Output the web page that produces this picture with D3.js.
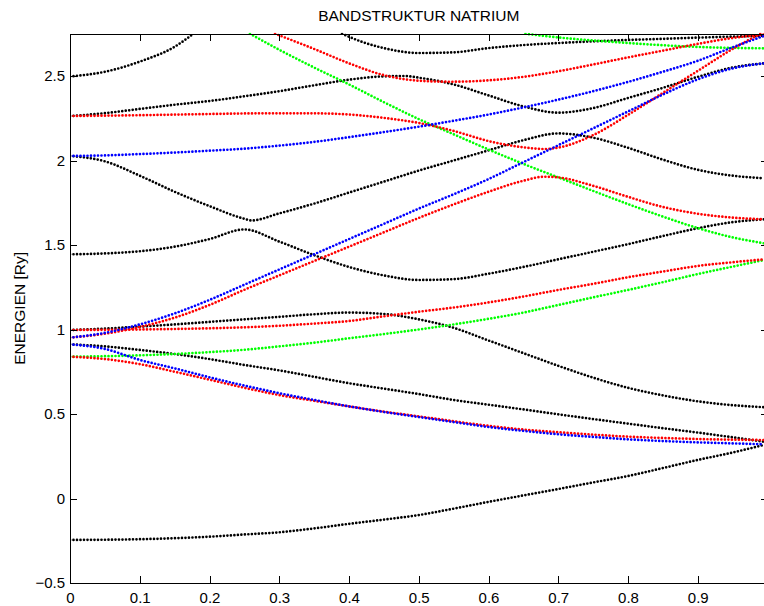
<!DOCTYPE html>
<html>
<head>
<meta charset="utf-8">
<script src="https://d3js.org/d3.v7.min.js"></script>
<style>
  body { margin: 0; background: #fff; }
  svg { display: block; font-family: "Liberation Sans", Arial, Helvetica, sans-serif; }
</style>
</head>
<body>
<svg id="bands" width="764" height="606"></svg>
<script>
const title = 'BANDSTRUKTUR NATRIUM'
const yLabel = 'ENERGIEN [Ry]'

const xTicks = [0, 0.1, 0.2, 0.3, 0.4, 0.5, 0.6, 0.7, 0.8, 0.9]
const xTickLabels = ['0', '0.1', '0.2', '0.3', '0.4', '0.5', '0.6', '0.7', '0.8', '0.9']
const yTicks = [-0.5, 0, 0.5, 1, 1.5, 2, 2.5]
const yTickLabels = ['\u22120.5', '0', '0.5', '1', '1.5', '2', '2.5']

// bands as [k, E] pairs
const blackLow = [[0,-0.245],[0.05,-0.244],[0.1,-0.241],[0.15,-0.235],[0.2,-0.226],[0.25,-0.213],[0.3,-0.2],[0.35,-0.177],[0.4,-0.15],[0.45,-0.125],[0.5,-0.098],[0.55,-0.06],[0.6,-0.02],[0.65,0.018],[0.7,0.056],[0.75,0.095],[0.8,0.133],[0.85,0.18],[0.9,0.228],[0.95,0.272],[0.995,0.317]]
const blackA = [[0,0.912],[0.05,0.9],[0.1,0.879],[0.15,0.855],[0.2,0.825],[0.25,0.79],[0.3,0.758],[0.35,0.72],[0.4,0.682],[0.45,0.65],[0.5,0.618],[0.55,0.583],[0.6,0.555],[0.65,0.527],[0.7,0.498],[0.75,0.47],[0.8,0.443],[0.85,0.416],[0.9,0.39],[0.95,0.362],[0.995,0.336]]
const blackB = [[0,0.997],[0.05,1.005],[0.1,1.017],[0.15,1.03],[0.2,1.045],[0.25,1.06],[0.3,1.075],[0.35,1.09],[0.4,1.1],[0.45,1.092],[0.5,1.06],[0.55,1.01],[0.6,0.935],[0.65,0.86],[0.7,0.785],[0.75,0.715],[0.8,0.655],[0.85,0.61],[0.9,0.575],[0.95,0.552],[0.995,0.54]]
const blackC = [[0,1.445],[0.05,1.45],[0.1,1.463],[0.15,1.49],[0.2,1.535],[0.25,1.592],[0.3,1.52],[0.35,1.44],[0.4,1.37],[0.45,1.32],[0.5,1.293],[0.55,1.298],[0.6,1.33],[0.65,1.37],[0.7,1.415],[0.75,1.46],[0.8,1.505],[0.85,1.553],[0.9,1.599],[0.95,1.635],[0.995,1.652]]
const blackD = [[0,2.027],[0.05,1.995],[0.1,1.91],[0.15,1.815],[0.2,1.73],[0.25,1.655],[0.26,1.645],[0.3,1.687],[0.35,1.745],[0.4,1.81],[0.45,1.875],[0.5,1.94],[0.55,2.0],[0.6,2.06],[0.65,2.12],[0.7,2.16],[0.75,2.135],[0.8,2.075],[0.85,2.005],[0.9,1.945],[0.95,1.91],[0.995,1.895]]
const blackE = [[0,2.263],[0.05,2.28],[0.1,2.305],[0.15,2.33],[0.2,2.352],[0.25,2.38],[0.3,2.41],[0.35,2.445],[0.4,2.478],[0.45,2.498],[0.48,2.5],[0.5,2.49],[0.55,2.45],[0.6,2.385],[0.65,2.32],[0.7,2.283],[0.75,2.31],[0.8,2.37],[0.85,2.43],[0.9,2.495],[0.95,2.55],[0.995,2.575]]
const blackF = [[0,2.497],[0.05,2.525],[0.1,2.585],[0.15,2.673],[0.177,2.75]]
const blackG = [[0.39,2.75],[0.42,2.7],[0.45,2.665],[0.5,2.636],[0.55,2.64],[0.6,2.665],[0.65,2.683],[0.7,2.695],[0.75,2.705],[0.8,2.713],[0.85,2.72],[0.9,2.727],[0.95,2.733],[0.995,2.737]]

const redA = [[0,0.839],[0.05,0.825],[0.1,0.795],[0.15,0.75],[0.2,0.703],[0.25,0.655],[0.3,0.612],[0.35,0.578],[0.4,0.545],[0.45,0.514],[0.5,0.486],[0.55,0.457],[0.6,0.43],[0.65,0.408],[0.7,0.392],[0.75,0.378],[0.8,0.366],[0.85,0.358],[0.9,0.352],[0.95,0.348],[0.995,0.346]]
const redB = [[0,0.997],[0.05,0.998],[0.1,1.0],[0.15,1.003],[0.2,1.007],[0.25,1.013],[0.3,1.022],[0.35,1.035],[0.4,1.05],[0.45,1.078],[0.5,1.105],[0.55,1.13],[0.6,1.16],[0.65,1.195],[0.7,1.234],[0.75,1.27],[0.8,1.309],[0.85,1.343],[0.9,1.376],[0.95,1.398],[0.995,1.415]]
const redC = [[0,0.952],[0.05,0.975],[0.1,1.015],[0.15,1.07],[0.2,1.145],[0.25,1.235],[0.3,1.32],[0.35,1.405],[0.4,1.49],[0.45,1.575],[0.5,1.66],[0.55,1.74],[0.6,1.815],[0.65,1.88],[0.68,1.904],[0.7,1.9],[0.75,1.85],[0.8,1.785],[0.85,1.725],[0.9,1.685],[0.95,1.662],[0.995,1.652]]
const redD = [[0,2.263],[0.1,2.268],[0.2,2.275],[0.272,2.279],[0.35,2.279],[0.4,2.272],[0.45,2.252],[0.5,2.222],[0.55,2.175],[0.6,2.115],[0.65,2.078],[0.68,2.068],[0.7,2.076],[0.75,2.15],[0.8,2.27],[0.85,2.4],[0.9,2.53],[0.95,2.66],[0.99,2.75]]
const redE = [[0.294,2.75],[0.35,2.66],[0.4,2.575],[0.45,2.505],[0.5,2.472],[0.545,2.466],[0.6,2.474],[0.65,2.495],[0.7,2.528],[0.75,2.568],[0.8,2.61],[0.85,2.65],[0.9,2.69],[0.95,2.725],[0.995,2.745]]

const greenA = [[0,0.839],[0.05,0.842],[0.1,0.847],[0.15,0.855],[0.2,0.866],[0.25,0.88],[0.3,0.9],[0.35,0.922],[0.4,0.948],[0.45,0.973],[0.5,1.0],[0.55,1.03],[0.6,1.063],[0.65,1.1],[0.7,1.145],[0.75,1.19],[0.8,1.234],[0.85,1.28],[0.9,1.328],[0.95,1.372],[0.995,1.411]]
const greenB = [[0.258,2.75],[0.3,2.655],[0.35,2.55],[0.4,2.45],[0.45,2.345],[0.5,2.245],[0.55,2.155],[0.6,2.065],[0.65,1.98],[0.7,1.9],[0.75,1.82],[0.8,1.742],[0.85,1.668],[0.9,1.6],[0.95,1.545],[0.995,1.51]]
const greenC = [[0.653,2.75],[0.7,2.728],[0.75,2.71],[0.8,2.695],[0.85,2.682],[0.9,2.672],[0.95,2.666],[0.995,2.664]]

const blueA = [[0,0.912],[0.05,0.885],[0.1,0.82],[0.15,0.77],[0.2,0.717],[0.25,0.668],[0.3,0.623],[0.35,0.583],[0.4,0.545],[0.45,0.512],[0.5,0.482],[0.55,0.452],[0.6,0.423],[0.65,0.4],[0.7,0.38],[0.75,0.364],[0.8,0.35],[0.85,0.34],[0.9,0.332],[0.95,0.326],[0.995,0.321]]
const blueB = [[0,0.952],[0.05,0.98],[0.1,1.03],[0.15,1.095],[0.2,1.175],[0.25,1.265],[0.3,1.355],[0.35,1.445],[0.4,1.535],[0.45,1.625],[0.5,1.715],[0.55,1.8],[0.6,1.89],[0.65,1.99],[0.7,2.09],[0.75,2.19],[0.8,2.29],[0.85,2.39],[0.9,2.48],[0.95,2.545],[0.995,2.575]]
const blueC = [[0,2.027],[0.05,2.03],[0.1,2.038],[0.15,2.047],[0.2,2.058],[0.25,2.07],[0.3,2.088],[0.35,2.11],[0.4,2.138],[0.45,2.168],[0.5,2.2],[0.55,2.235],[0.6,2.272],[0.65,2.314],[0.7,2.36],[0.75,2.41],[0.8,2.465],[0.85,2.525],[0.9,2.59],[0.95,2.67],[0.995,2.737]]

const bands = [
  { color: '#000000', pts: [blackLow, blackA, blackB, blackC, blackD, blackE, blackF, blackG] },
  { color: '#00ff00', pts: [greenA, greenB, greenC] },
  { color: '#ff0000', pts: [redA, redB, redC, redD, redE] },
  { color: '#0000ff', pts: [blueA, blueB, blueC] }
]

const plotLeft = 70, plotRight = 767.5, plotTop = 33.75, plotBottom = 583

const x = d3.scaleLinear().domain([0, 1]).range([plotLeft, plotRight])
const y = d3.scaleLinear().domain([-0.5, 2.75]).range([plotBottom, plotTop])

const svg = d3.select('svg#bands')

svg.append('defs').append('clipPath')
  .attr('id', 'plotclip')
  .append('rect')
    .attr('x', plotLeft).attr('y', plotTop - 1)
    .attr('width', plotRight - plotLeft).attr('height', plotBottom - plotTop + 1)

const line = d3.line()
  .x(d => x(d[0]))
  .y(d => y(d[1]))
  .curve(d3.curveMonotoneX)

const plot = svg.append('g').attr('clip-path', 'url(#plotclip)')

bands.forEach(b => {
  plot.selectAll(null)
    .data(b.pts)
    .enter()
      .append('path')
        .attr('d', line)
        .attr('fill', 'none')
        .attr('stroke', b.color)
        .attr('stroke-width', 2.7)
        .attr('stroke-linecap', 'round')
        .attr('stroke-dasharray', '0 3.5')
})

// axes, matlab style: box with inward ticks
const fontSize = '15px'

svg.append('g')
  .attr('transform', `translate(0,${plotBottom})`)
  .call(d3.axisBottom(x).tickValues(xTicks)
    .tickFormat((d, i) => xTickLabels[i])
    .tickSizeInner(-7).tickSizeOuter(0).tickPadding(9))

svg.append('g')
  .attr('transform', `translate(${plotLeft},0)`)
  .call(d3.axisLeft(y).tickValues(yTicks)
    .tickFormat((d, i) => yTickLabels[i])
    .tickSizeInner(-7).tickSizeOuter(0).tickPadding(5))

svg.append('g')
  .attr('transform', `translate(0,${plotTop})`)
  .call(d3.axisTop(x).tickValues(xTicks).tickFormat('')
    .tickSizeInner(-7).tickSizeOuter(0))

svg.append('g')
  .attr('transform', `translate(${plotRight},0)`)
  .call(d3.axisRight(y).tickValues(yTicks).tickFormat('')
    .tickSizeInner(-7).tickSizeOuter(0))

svg.selectAll('.domain, .tick line')
  .attr('stroke', '#000')
  .attr('stroke-width', 1)
  .attr('shape-rendering', 'crispEdges')

svg.selectAll('.tick text')
  .attr('fill', '#000')
  .style('font-size', fontSize)
  .style('font-family', '"Liberation Sans", Arial, Helvetica, sans-serif')

svg.append('text')
  .attr('x', (plotLeft + plotRight) / 2)
  .attr('y', 21)
  .attr('text-anchor', 'middle')
  .style('font-size', '15.5px')
  .text(title)

svg.append('text')
  .attr('transform', `translate(24.5,${(plotTop + plotBottom) / 2}) rotate(-90)`)
  .attr('text-anchor', 'middle')
  .style('font-size', '15.5px')
  .text(yLabel)
</script>
</body>
</html>
